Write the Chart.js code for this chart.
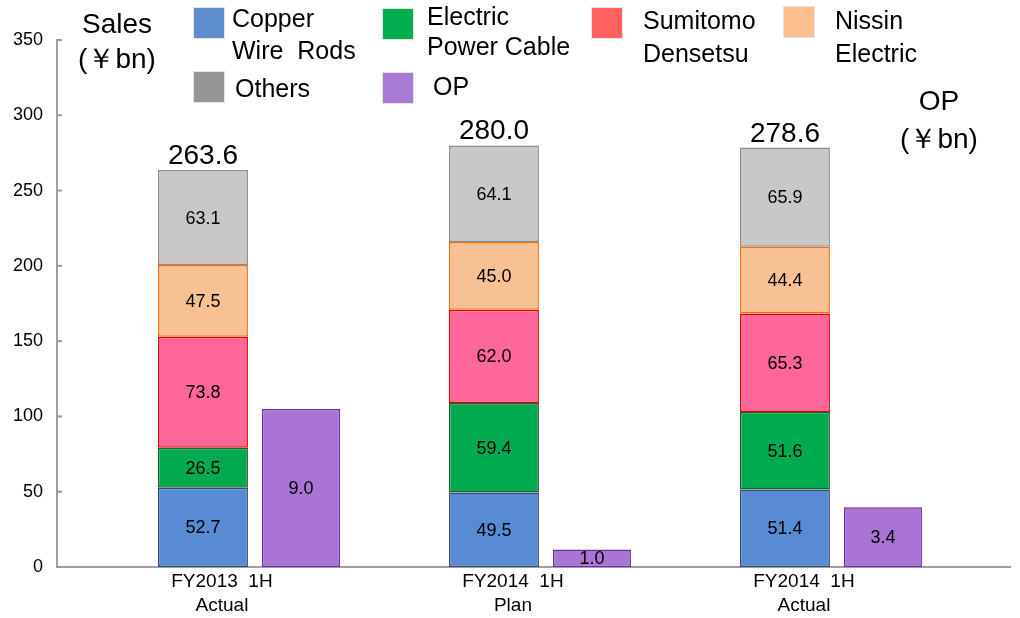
<!DOCTYPE html>
<html>
<head>
<meta charset="utf-8">
<script src="https://cdn.jsdelivr.net/npm/chart.js@4.4.0/dist/chart.umd.min.js"></script>
<style>
  html, body { margin: 0; padding: 0; background: #fff; }
  #wrap { width: 1020px; height: 618px; }
</style>
</head>
<body>
<div id="wrap"><canvas id="myChart" width="1020" height="618"></canvas></div>
<script>
// data (¥bn)
let periods = [["FY2013  1H", "Actual"], ["FY2014  1H", "Plan"], ["FY2014  1H", "Actual"]];
let copperWireRods = [52.7, 49.5, 51.4];
let powerCable = [26.5, 59.4, 51.6];
let sumitomoDensetsu = [73.8, 62.0, 65.3];
let nissinElectric = [47.5, 45.0, 44.4];
let others = [63.1, 64.1, 65.9];
let op = [9.0, 1.0, 3.4];
let salesTicks = [0, 50, 100, 150, 200, 250, 300, 350];

const FONT = '"Liberation Sans", Arial, sans-serif';
Chart.defaults.font.family = FONT;
Chart.defaults.color = '#000';

function pts(arr) {
  return arr.map((v, i) => ({ x: i, y: v }));
}

// legend boxes sit on top, laid out like the original slide
const legendItems = [
  { lines: ["Copper", "Wire  Rods"], color: "#5f8fcf", x: 194, y: 8, tx: 232, ty: [20, 52] },
  { lines: ["Electric", "Power Cable"], color: "#00b050", x: 383, y: 9, tx: 427, ty: [18, 48] },
  { lines: ["Sumitomo", "Densetsu"], color: "#ff6161", x: 592, y: 8, tx: 643, ty: [22, 55] },
  { lines: ["Nissin", "Electric"], color: "#ffbf8f", x: 784, y: 7, tx: 835, ty: [22, 55] },
  { lines: ["Others"], color: "#969696", x: 194, y: 72, tx: 235, ty: [90] },
  { lines: ["OP"], color: "#aa7bd6", x: 383, y: 73, tx: 433, ty: [88] }
];

const decorations = {
  id: 'decorations',
  afterDraw(chart) {
    const ctx = chart.ctx;
    ctx.save();
    ctx.textBaseline = 'middle';
    // legend
    legendItems.forEach(it => {
      ctx.fillStyle = it.color;
      ctx.fillRect(it.x, it.y, 30, 30);
      ctx.strokeStyle = '#e4e4e4';
      ctx.lineWidth = 1;
      ctx.strokeRect(it.x - 0.5, it.y - 0.5, 31, 31);
      ctx.fillStyle = '#000';
      ctx.font = '25px ' + FONT;
      ctx.textAlign = 'left';
      it.lines.forEach((l, k) => ctx.fillText(l, it.tx, it.ty[k]));
    });
    // axis titles
    ctx.textAlign = 'center';
    ctx.font = '28px ' + FONT;
    ctx.fillText('Sales', 117, 25);
    ctx.fillText('(￥bn)', 117, 60);
    ctx.fillText('OP', 939, 102);
    ctx.fillText('(￥bn)', 939, 140);
    // inward tick marks on the sales axis
    const ys = chart.scales.y;
    ctx.strokeStyle = '#999';
    ctx.lineWidth = 2;
    salesTicks.forEach(t => {
      const py = ys.getPixelForValue(t);
      ctx.beginPath();
      ctx.moveTo(chart.chartArea.left, py);
      ctx.lineTo(chart.chartArea.left + 5, py);
      ctx.stroke();
    });
    ctx.restore();
  },
  afterDatasetsDraw(chart) {
    const ctx = chart.ctx;
    ctx.save();
    ctx.fillStyle = '#000';
    ctx.textAlign = 'center';
    ctx.textBaseline = 'middle';
    ctx.font = '18px ' + FONT;
    chart.data.datasets.forEach((ds, di) => {
      const meta = chart.getDatasetMeta(di);
      meta.data.forEach((el, i) => {
        ctx.fillText(ds.data[i].y.toFixed(1), el.x, (el.y + el.base) / 2 + 1);
      });
    });
    // totals above the sales stacks
    ctx.font = '28px ' + FONT;
    ctx.textBaseline = 'alphabetic';
    const top = chart.getDatasetMeta(4);
    top.data.forEach((el, i) => {
      const total = copperWireRods[i] + powerCable[i] + sumitomoDensetsu[i] + nissinElectric[i] + others[i];
      ctx.fillText(total.toFixed(1), el.x, el.y - 6);
    });
    ctx.restore();
  }
};

const salesBar = { stack: 'sales', yAxisID: 'y', barPercentage: 0.918, categoryPercentage: 0.6735, borderWidth: 1.5, borderSkipped: false };

new Chart(document.getElementById("myChart"), {
  type: 'bar',
  data: {
    datasets: [
      Object.assign({ label: 'Copper Wire Rods', data: pts(copperWireRods), backgroundColor: '#588bd4', borderColor: '#2f4a72' }, salesBar),
      Object.assign({ label: 'Electric Power Cable', data: pts(powerCable), backgroundColor: '#00ab4f', borderColor: '#1d5e33' }, salesBar),
      Object.assign({ label: 'Sumitomo Densetsu', data: pts(sumitomoDensetsu), backgroundColor: '#ff6699', borderColor: '#e00000' }, salesBar),
      Object.assign({ label: 'Nissin Electric', data: pts(nissinElectric), backgroundColor: '#f8c193', borderColor: '#f07010' }, salesBar),
      Object.assign({ label: 'Others', data: pts(others), backgroundColor: '#c8c8c8', borderColor: '#8c8c8c' }, salesBar),
      { label: 'OP', data: pts(op), stack: 'op', yAxisID: 'y2', backgroundColor: '#a974d6', borderColor: '#6a2e9a',
        barPercentage: 0.796, categoryPercentage: 0.6735, borderWidth: 1.5, borderSkipped: false }
    ]
  },
  options: {
    responsive: false,
    animation: false,
    devicePixelRatio: 1,
    layout: { padding: { top: 40, right: 10, bottom: 0, left: 0 } },
    plugins: { legend: { display: false }, tooltip: { enabled: false } },
    scales: {
      x: {
        type: 'linear',
        offset: false,
        min: -0.67,
        max: 2.605,
        afterBuildTicks: (axis) => { axis.ticks = periods.map((p, i) => ({ value: i })); },
        afterFit: (axis) => { axis.height = 51; },
        grid: { display: false, drawTicks: false },
        border: { display: true, color: '#a0a0a0', width: 2 },
        ticks: {
          callback: (v) => periods[v],
          autoSkip: false,
          maxRotation: 0,
          labelOffset: -30,
          padding: 2,
          font: { size: 19, lineHeight: 1.3 }
        }
      },
      y: {
        stacked: true,
        min: 0,
        max: 350,
        afterBuildTicks: (axis) => { axis.ticks = salesTicks.map(v => ({ value: v })); },
        afterFit: (axis) => { axis.width = 57; },
        grid: { display: false, drawTicks: false },
        border: { display: true, color: '#a0a0a0', width: 2 },
        ticks: { padding: 14, font: { size: 18 } }
      },
      y2: {
        display: false,
        stacked: true,
        min: 0,
        max: 30
      }
    }
  },
  plugins: [decorations]
});
</script>
</body>
</html>
